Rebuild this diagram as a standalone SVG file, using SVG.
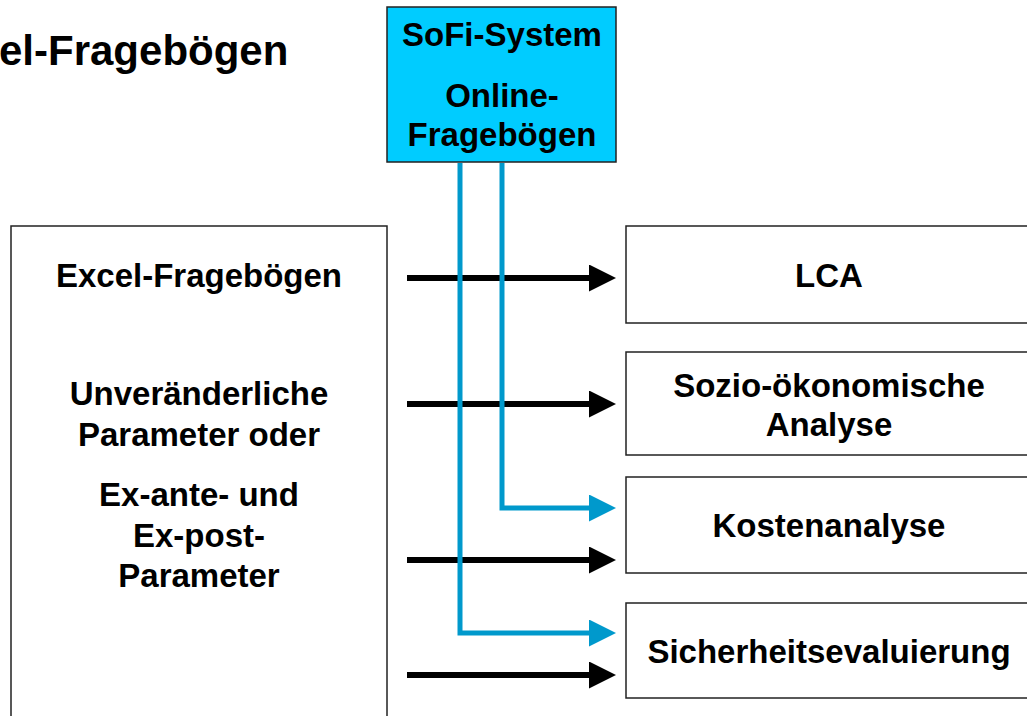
<svg xmlns="http://www.w3.org/2000/svg" width="1027" height="716" viewBox="0 0 1027 716">
  <style>
    .lbl { font-family: "Liberation Sans", Arial, sans-serif; font-weight: bold; font-size: 33px; fill: #000; text-anchor: middle; }
    .title { font-family: "Liberation Sans", Arial, sans-serif; font-weight: bold; font-size: 42px; fill: #000; }
    .box { fill: #fff; stroke: #222; stroke-width: 1.5; }
    .sys { fill: #00CCFF; stroke: #222; stroke-width: 1.5; }
    .arr { fill: none; stroke: #000; stroke-width: 6; }
    .feed { fill: none; stroke: #0099CC; stroke-width: 5; stroke-linejoin: miter; }
  </style>
  <defs>
    <marker id="head-black" markerUnits="userSpaceOnUse" markerWidth="28" markerHeight="28" refX="11" refY="13.5" orient="auto">
      <path d="M0,0 L27,13.5 L0,27 Z" fill="#000"/>
    </marker>
    <marker id="head-blue" markerUnits="userSpaceOnUse" markerWidth="28" markerHeight="28" refX="11" refY="13.5" orient="auto">
      <path d="M0,0 L27,13.5 L0,27 Z" fill="#0099CC"/>
    </marker>
  </defs>

  <rect width="1027" height="716" fill="#fff"/>

  <text class="title" x="-1" y="65">el-Fragebögen</text>

  <!-- input sources -->
  <g id="excel">
    <rect class="box" x="11" y="226" width="376" height="500"/>
    <text class="lbl" x="199" y="287">Excel-Fragebögen</text>
    <text class="lbl" x="199" y="405">Unveränderliche</text>
    <text class="lbl" x="199" y="446">Parameter oder</text>
    <text class="lbl" x="199" y="506">Ex-ante- und</text>
    <text class="lbl" x="199" y="547">Ex-post-</text>
    <text class="lbl" x="199" y="587">Parameter</text>
  </g>

  <g id="sofi">
    <rect class="sys" x="387" y="7" width="229" height="155"/>
    <text class="lbl" x="502" y="46">SoFi-System</text>
    <text class="lbl" x="502" y="107">Online-</text>
    <text class="lbl" x="502" y="146">Fragebögen</text>
  </g>

  <!-- analysis modules -->
  <g id="lca">
    <rect class="box" x="626" y="226" width="410" height="97"/>
    <text class="lbl" x="829" y="287">LCA</text>
  </g>
  <g id="sozio">
    <rect class="box" x="626" y="352" width="410" height="103"/>
    <text class="lbl" x="829" y="397">Sozio-ökonomische</text>
    <text class="lbl" x="829" y="436">Analyse</text>
  </g>
  <g id="kosten">
    <rect class="box" x="626" y="477" width="410" height="96"/>
    <text class="lbl" x="829" y="537">Kostenanalyse</text>
  </g>
  <g id="sicherheit">
    <rect class="box" x="626" y="603" width="410" height="95"/>
    <text class="lbl" x="829" y="663">Sicherheitsevaluierung</text>
  </g>

  <g id="connectors">
    <line class="arr" x1="407" y1="278" x2="600" y2="278" marker-end="url(#head-black)"/>
    <line class="arr" x1="407" y1="404" x2="600" y2="404" marker-end="url(#head-black)"/>
    <line class="arr" x1="407" y1="560" x2="600" y2="560" marker-end="url(#head-black)"/>
    <line class="arr" x1="407" y1="675" x2="600" y2="675" marker-end="url(#head-black)"/>
    <path class="feed" d="M502,163 V508 H600" marker-end="url(#head-blue)"/>
    <path class="feed" d="M460,163 V633 H600" marker-end="url(#head-blue)"/>
  </g>
</svg>
